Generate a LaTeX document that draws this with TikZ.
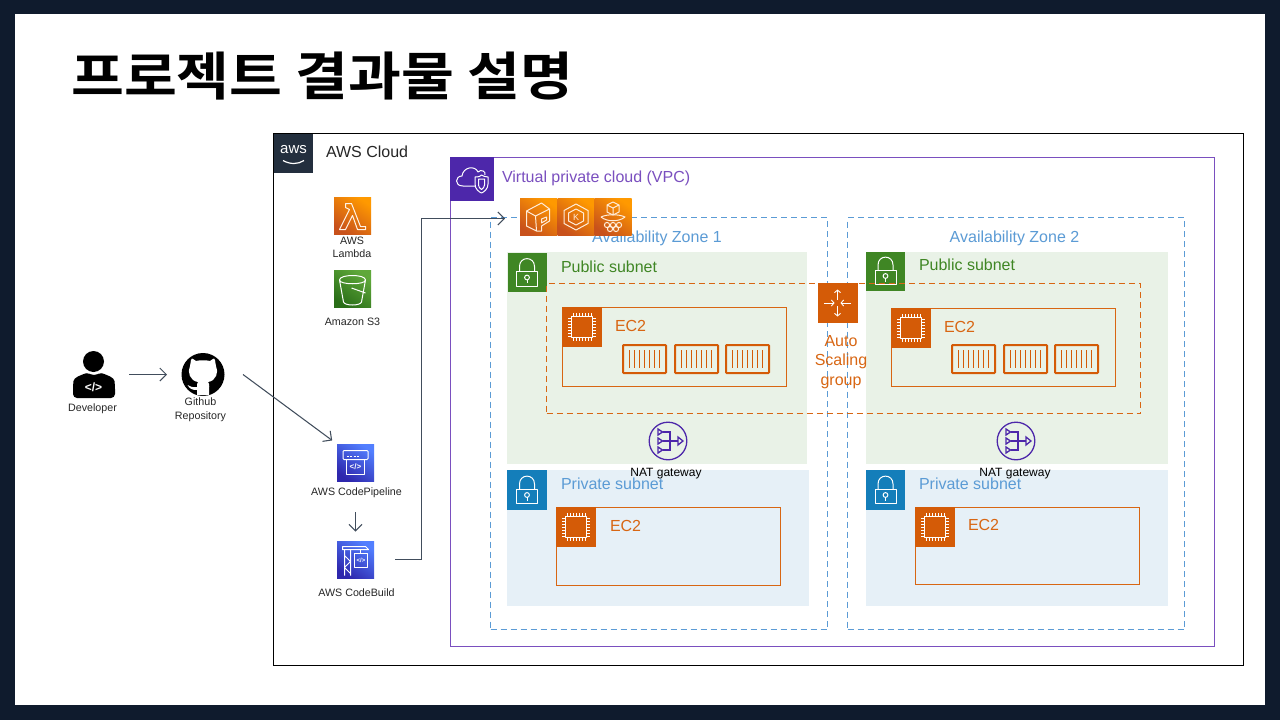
\documentclass[tikz,border=0pt]{standalone}
\usepackage{fontspec}
\usepackage{graphicx}
\setmainfont{Liberation Sans}
\newfontfamily\cjk[BoldFont={Noto Sans CJK KR Bold}]{Noto Sans CJK KR}
\usetikzlibrary{arrows.meta,calc}
\definecolor{frame}{HTML}{0F1B2D}
\definecolor{slate}{HTML}{414D5C}
\definecolor{awsdark}{HTML}{232F3E}
\definecolor{vpcline}{HTML}{7A4FBF}
\definecolor{vpcfill}{HTML}{4D27AA}
\definecolor{azblue}{HTML}{5B9BD5}
\definecolor{pubfill}{HTML}{E9F2E7}
\definecolor{pubgreen}{HTML}{3F8624}
\definecolor{privfill}{HTML}{E6F0F7}
\definecolor{privblue}{HTML}{147EBA}
\definecolor{ec2o}{HTML}{D86613}
\definecolor{ec2f}{HTML}{D45B07}
\definecolor{natp}{HTML}{4D27AA}
\definecolor{orlo}{HTML}{C8511B}
\definecolor{orhi}{HTML}{FF9900}
\definecolor{grlo}{HTML}{2A6E18}
\definecolor{grhi}{HTML}{5FA83A}
\definecolor{blulo}{HTML}{2E27AD}
\definecolor{bluhi}{HTML}{527FFF}
\tikzset{
  x=1pt,y=-1pt,
  region/.style={rectangle,inner sep=0,outer sep=0},
  ico/.style={rectangle,inner sep=0,outer sep=0,minimum size=#1},
  ico/.default=40pt,
  lbl/.style={inner sep=0,outer sep=0,anchor=west,font=\fontsize{16}{18}\selectfont},
  iconcap/.style={inner sep=0,outer sep=0,align=center,text=black!85,font=\fontsize{10.7}{13.5}\selectfont},
  gl/.style={draw=white,line width=1pt,line join=round,fill=none},
  orangeicon/.style={ico=37pt,bottom color=orlo,top color=orhi,shading angle=-35},
  greenicon/.style={ico=37pt,bottom color=grlo,top color=grhi,shading angle=-35},
  blueicon/.style={ico=37pt,bottom color=blulo,top color=bluhi,shading angle=-35},
  flow/.style={draw=slate,line width=1.05pt,-{Straight Barb[length=6.5pt,width=13pt,line width=1.05pt]}},
  azbox/.style={region,draw=azblue,line width=1.3pt,dash pattern=on 6pt off 4pt},
  ec2box/.style={region,draw=ec2o,line width=1.2pt},
}
\newcommand\regionbox[6][]{%
  \pgfmathsetmacro\rw{#5-#3}\pgfmathsetmacro\rh{#6-#4}%
  \node[#1,minimum width=\rw pt,minimum height=\rh pt] (#2) at ({(#3+#5)/2},{(#4+#6)/2}) {};}
\newcommand\lockglyph[1]{\begin{scope}[shift={(#1)}]
  \draw[gl] (-10.5,-1) rectangle (10.5,13.5);
  \draw[gl] (-7.5,-1) -- (-7.5,-6) .. controls (-7.5,-16.5) and (7.5,-16.5) .. (7.5,-6) -- (7.5,-1);
  \draw[gl] (0,5) circle (2.4pt);
  \draw[gl] (0,7.4) -- (0,10.5);
\end{scope}}
\newcommand\chipglyph[1]{\begin{scope}[shift={(#1)}]
  \draw[gl] (-10.5,-10.5) rectangle (10.5,10.5);
  \foreach \t in {-9,-6,-3,0,3,6,9}{
    \draw[white,line width=.8pt] (\t,-10.5) -- (\t,-14) (\t,10.5) -- (\t,14) (-10.5,\t) -- (-14,\t) (10.5,\t) -- (14,\t);}
\end{scope}}
\newcommand\contglyph[2]{\draw[ec2f,line width=2pt,rounded corners=.8pt] (#1,#2) rectangle ++(43,28);
  \foreach \i in {1,...,7}{\draw[ec2f,line width=1.6pt] ({#1+6.5+(\i-1)*5},{#2+5}) -- ++(0,18);}}
\newcommand\natglyph[1]{\begin{scope}[shift={(#1)},natp,line width=1.3pt]
  \draw (0,0) circle (18.8pt);
  \foreach \t in {-9,0,9}{\draw (-10,{\t-3}) -- (-5.5,\t) -- (-10,{\t+3}) -- cycle;}
  \draw (-5.5,-9) -- (2,-9) -- (2,9) -- (-5.5,9) (-5.5,0) -- (10,0);
  \draw (10,-4) -- (15,0) -- (10,4) -- cycle;
\end{scope}}
\begin{document}
\begin{tikzpicture}
\useasboundingbox (0,0) rectangle (1280,720);
\fill[frame] (0,0) rectangle (1280,720);
\fill[white] (15,14) rectangle (1265,705);

\node[inner sep=0,anchor=west] (title) at (71,76) {\scalebox{1.105}[1]{\cjk\bfseries\fontsize{52}{56}\selectfont 프로젝트 결과물 설명}};

% containers
\regionbox[region,draw=black,line width=1.2pt,fill=white]{cloud}{273.5}{133.5}{1243.5}{665.5}
\regionbox[region,draw=vpcline,line width=1.2pt]{vpc}{450.5}{157.5}{1214.5}{646.5}
\regionbox[region,fill=pubfill]{pub1}{507}{252}{807}{464}
\regionbox[region,fill=pubfill]{pub2}{866}{252}{1168}{464}
\regionbox[region,fill=privfill]{priv1}{507}{470}{809}{606}
\regionbox[region,fill=privfill]{priv2}{866}{470}{1168}{606}
\regionbox[azbox]{az1}{490.5}{217.5}{827.5}{629.5}
\regionbox[azbox]{az2}{847.5}{217.5}{1184.5}{629.5}

% AWS cloud header
\node[ico=39pt,fill=awsdark] (awslogo) at (293.5,153.5) {};
\node[inner sep=0,text=white,font=\fontsize{15}{15}\selectfont] (awstxt) at (293.5,150) {aws};
\draw[white,line width=1.2pt] (283,160.5) .. controls (290,164.5) and (298,164.5) .. (304,160.5);
\node[lbl,text=black!85] (cloudlbl) at (326,152) {AWS Cloud};

% VPC header
\node[ico=44pt,fill=vpcfill] (vpcico) at (472,179) {};
\begin{scope}[shift={(vpcico.center)}]
  \draw[gl] (3,7) -- (-9,7) .. controls (-18,7) and (-17,-3) .. (-10,-3) .. controls (-9,-12) and (3,-14) .. (6,-7) .. controls (9,-10) and (14,-8) .. (13,-4);
  \draw[gl] (3,-2) .. controls (7,-2) and (9,-3) .. (9.5,-4) .. controls (11,-3) and (13,-2) .. (16,-2) -- (16,5) .. controls (16,10) and (12,13) .. (9.5,14) .. controls (7,13) and (3,10) .. (3,5) -- cycle;
  \draw[gl] (6.5,0) -- (12.5,0) -- (12.5,6) .. controls (12.5,8) and (11,9.5) .. (9.5,10.5) .. controls (8,9.5) and (6.5,8) .. (6.5,6) -- cycle;
\end{scope}
\node[lbl,text=vpcline] (vpclbl) at (502,178.5) {Virtual private cloud (VPC)};

% zone labels
\node[inner sep=0,text=azblue,font=\fontsize{16}{18}\selectfont] (az1lbl) at (657,238.5) {Availability Zone 1};
\node[inner sep=0,text=azblue,font=\fontsize{16}{18}\selectfont] (az2lbl) at (1014.5,238.5) {Availability Zone 2};

% subnets headers
\node[ico=39pt,fill=pubgreen] (pub1ico) at (527,272.5) {}; \lockglyph{pub1ico.center}
\node[ico=39pt,fill=pubgreen] (pub2ico) at (885.5,271) {}; \lockglyph{pub2ico.center}
\node[ico=39.5pt,fill=privblue] (priv1ico) at (527,490) {}; \lockglyph{priv1ico.center}
\node[ico=39.5pt,fill=privblue] (priv2ico) at (885.5,490) {}; \lockglyph{priv2ico.center}
\node[lbl,text=pubgreen] (pub1lbl) at (561,267) {Public subnet};
\node[lbl,text=pubgreen] (pub2lbl) at (919,265) {Public subnet};
\node[lbl,text=azblue] (priv1lbl) at (561,484) {Private subnet};
\node[lbl,text=azblue] (priv2lbl) at (919,484) {Private subnet};

% auto scaling group
\regionbox[region,draw=ec2o,line width=1.3pt,dash pattern=on 6pt off 4pt]{asg}{546.5}{283.5}{1140.5}{413.5}
\node[ico=40pt,fill=ec2f] (asgico) at (837.5,303) {};
\begin{scope}[shift={(asgico.center)},line width=.9pt,white,-{Straight Barb[length=2.5pt,width=6pt]}]
  \draw (-13.5,0) -- (-3,0);
  \draw (13.5,0) -- (3,0);
  \draw (0,-3) -- (0,-13.5);
  \draw (0,3) -- (0,13.5);
\end{scope}
\node[inner sep=0,align=center,text=ec2o,font=\fontsize{16}{19.5}\selectfont] (asglbl) at (841,362) {Auto\\Scaling\\group};

% EC2 boxes
\regionbox[ec2box]{ec1}{562.5}{307.5}{786.5}{386.5}
\node[ico=40pt,fill=ec2f] (ec1ico) at (582,327) {}; \chipglyph{ec1ico.center}
\node[lbl,text=ec2o] (ec1lbl) at (615,326) {EC2};
\contglyph{623}{345}\contglyph{675}{345}\contglyph{726}{345}
\regionbox[ec2box]{ec2}{891.5}{308.5}{1115.5}{386.5}
\node[ico=40pt,fill=ec2f] (ec2ico) at (911,328) {}; \chipglyph{ec2ico.center}
\node[lbl,text=ec2o] (ec2lbl) at (944,327) {EC2};
\contglyph{952}{345}\contglyph{1004}{345}\contglyph{1055}{345}
\regionbox[ec2box]{ec3}{556.5}{507.5}{780.5}{585.5}
\node[ico=40pt,fill=ec2f] (ec3ico) at (576,527) {}; \chipglyph{ec3ico.center}
\node[lbl,text=ec2o] (ec3lbl) at (610,526) {EC2};
\regionbox[ec2box]{ec4}{915.5}{507.5}{1139.5}{584.5}
\node[ico=40pt,fill=ec2f] (ec4ico) at (935,527) {}; \chipglyph{ec4ico.center}
\node[lbl,text=ec2o] (ec4lbl) at (968,525) {EC2};

% NAT
\natglyph{668,441}
\node[inner sep=0,text=black,font=\fontsize{12}{14}\selectfont] (nat1lbl) at (666,473.5) {NAT gateway};
\natglyph{1016,441}
\node[inner sep=0,text=black,font=\fontsize{12}{14}\selectfont] (nat2lbl) at (1015,473.5) {NAT gateway};

% AWS service icons
\node[orangeicon] (lambda) at (352.5,215.5) {};
\begin{scope}[shift={(lambda.center)}]
  \draw[gl,white!90!orange] (-7,-12) -- (-1,-12) -- (8,11) -- (13,11) -- (13,14) -- (5,14) -- (0,0) -- (-7,14) -- (-13,14) -- (-3,-6) -- (-7,-8) -- cycle;
\end{scope}
\node[iconcap] (lambdalbl) at (352,247.5) {AWS\\Lambda};
\node[greenicon] (s3) at (352.5,289) {};
\begin{scope}[shift={(s3.center)}]
  \draw[gl] (-13,-9) .. controls (-13,-15) and (13,-15) .. (13,-9) .. controls (13,-4) and (-13,-4) .. (-13,-9) -- (-9,13) .. controls (-8,17) and (8,17) .. (9,13) -- (13,-9);
  \draw[gl] (-1,-1) -- (13,4);
\end{scope}
\node[iconcap] (s3lbl) at (352.5,322) {Amazon S3};

% compute trio
\node[orangeicon] (ecs) at (538.5,217) {};
\node[orangeicon] (eks) at (576,217) {};
\node[orangeicon] (far) at (613,217) {};
\begin{scope}[shift={(ecs.center)}]
  \draw[gl,white!85!orange] (-12,-6) -- (3,-14) -- (11,-8) -- (11,4) -- (3,9) -- (3,14) -- (-2,14) -- (-12,9) -- cycle (-12,-6) -- (-3,-1) -- (11,-8) (-3,-1) -- (-2,14);
  \draw[gl,white!85!orange] (3,2) -- (8,0) -- (8,3) -- (3,6) -- cycle;
\end{scope}
\begin{scope}[shift={(eks.center)}]
  \draw[gl,white!85!orange] (0,-13) -- (12,-6.5) -- (12,6.5) -- (0,13) -- (-12,6.5) -- (-12,-6.5) -- cycle;
  \draw[gl,white!85!orange] (0,-8) -- (7.5,-4) -- (7.5,4) -- (0,8) -- (-7.5,4) -- (-7.5,-4) -- cycle;
  \node[inner sep=0,text=white!85!orange,font=\fontsize{9}{9}\selectfont] (kletter) at (0,0) {K};
\end{scope}
\begin{scope}[shift={(far.center)}]
  \draw[gl,white!85!orange] (-6,-12) -- (0,-15) -- (6,-12) -- (6,-5) -- (0,-2) -- (-6,-5) -- cycle (-6,-12) -- (0,-9) -- (6,-12) (0,-9) -- (0,-2);
  \draw[gl,white!85!orange] (-12,0) .. controls (-6,-3) and (6,-3) .. (12,0) .. controls (6,5) and (-6,5) .. (-12,0);
  \foreach \p in {-6,0,6}{\draw[gl,white!85!orange] (\p,8) circle (2.6pt);}
  \draw[gl,white!85!orange] (-3,12) circle (2.6pt) (3,12) circle (2.6pt);
\end{scope}

% code services
\node[blueicon] (pipe) at (355.5,462.5) {};
\begin{scope}[shift={(pipe.center)}]
  \draw[gl,rounded corners=1pt] (-12.5,-12) -- (12.5,-12) -- (12.5,-3) -- (-12.5,-3) -- cycle;
  \draw[gl] (-9,-3) -- (-9,12) -- (9,12) -- (9,-3);
  \draw[white,line width=.7pt,dash pattern=on 2pt off 1.5pt] (-9,-6) -- (4,-6);
  \node[inner sep=0,text=white,font=\fontsize{8}{8}\selectfont\bfseries] (pcode) at (0,4.5) {</>};
\end{scope}
\node[iconcap] (pipelbl) at (356.5,493) {AWS CodePipeline};
\node[blueicon] (build) at (355.5,559.5) {};
\begin{scope}[shift={(build.center)}]
  \draw[gl] (-13,-10) -- (13,-10) -- (10,-13) -- (-13,-13) -- cycle;
  \draw[gl] (-11,-10) -- (-11,16) (-5,-10) -- (-5,16) (-11,-4) -- (-5,2) -- (-11,8) -- (-5,14);
  \draw[gl] (5,-10) -- (5,-6);
  \draw[gl] (-1,-6) rectangle (12,8);
  \node[inner sep=0,text=white,font=\fontsize{6}{6}\selectfont\bfseries] (bcode) at (5.5,1) {</>};
\end{scope}
\node[iconcap] (buildlbl) at (356.5,592.5) {AWS CodeBuild};

% developer
\node[inner sep=0,minimum width=43pt,minimum height=48pt] (dev) at (93.5,374.5) {};
\fill[black] (93.5,361.5) circle (10.5pt);
\fill[black,rounded corners=4pt] (73,398) -- (73,385) .. controls (74,377) and (82,375) .. (86,372) -- (94,376) -- (102,372) .. controls (106,375) and (114,377) .. (115,385) -- (115,398) -- cycle;
\node[inner sep=0,text=white,font=\fontsize{12}{12}\selectfont\bfseries] (devcode) at (93.5,387) {</>};
\node[iconcap] (devlbl) at (92.5,408.5) {Developer};

% github
\node[circle,fill=black,inner sep=0,outer sep=0,minimum size=43pt] (gh) at (203,374.5) {};
\fill[white] (191,360) .. controls (191,358) and (192,358) .. (196,361) .. controls (200,360) and (206,360) .. (210,361) .. controls (214,358) and (215,358) .. (215,360) .. controls (215,363) and (216,364) .. (216,366) .. controls (219,372) and (216,381) .. (208,382) .. controls (210,384) and (209,387) .. (209,395) -- (197,395) -- (197,390) .. controls (192,390) and (190,389) .. (187.5,385) .. controls (190,386) and (192,388) .. (197,387) .. controls (197,385) and (197,383) .. (198,382) .. controls (190,381) and (187,372) .. (190,366) .. controls (190,364) and (191,363) .. (191,360) -- cycle;
\node[iconcap] (ghlbl) at (200.5,409.5) {Github\\Repository};

% connectors
\coordinate (vpcin) at (505,218.5);
\coordinate (bend) at (421.5,218.5);
\draw[flow,shorten <=14pt,shorten >=14.5pt] (dev.east) -- (gh.west);
\draw[flow,shorten >=6pt] ([xshift=18.5pt]gh.east) -- (pipe.north west);
\draw[flow,shorten <=31pt,shorten >=9.5pt] (pipe.south) -- (build.north);
\draw[flow] ([xshift=21pt]build.east) -| (bend) -- (vpcin);
\end{tikzpicture}
\end{document}
